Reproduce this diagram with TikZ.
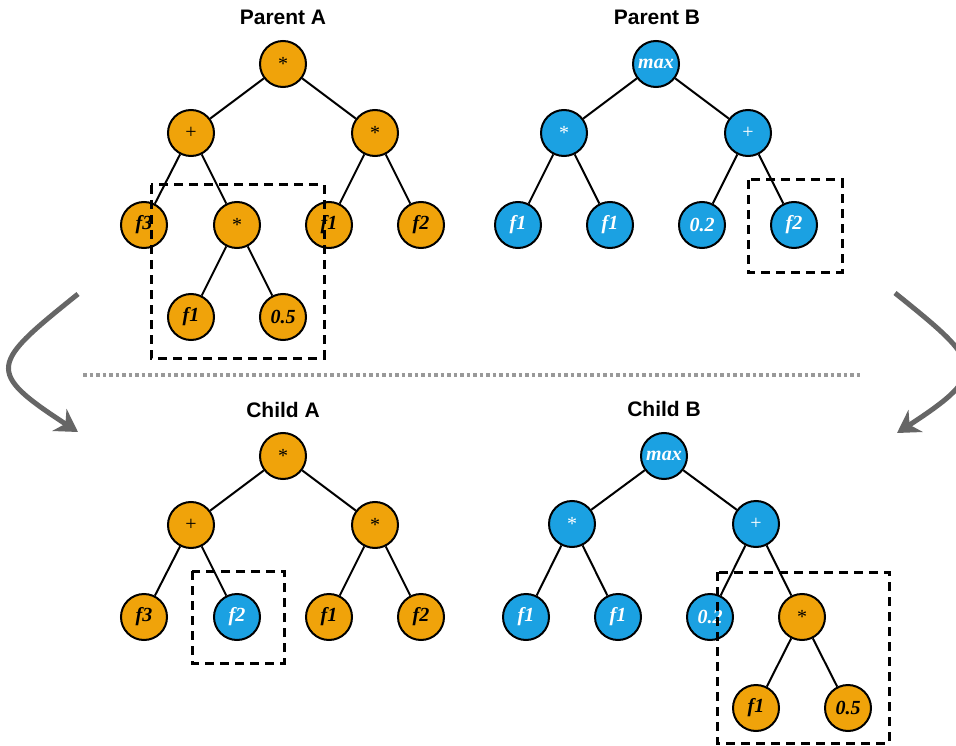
\documentclass[tikz,border=0pt]{standalone}
\usepackage{fontspec}
\setmainfont{Liberation Serif}
\newfontfamily\headfont{Liberation Sans}
\usetikzlibrary{arrows.meta}
\newcommand{\gpfont}{\fontsize{20pt}{22pt}\selectfont\bfseries\itshape}
\newcommand{\opfont}{\fontsize{20pt}{22pt}\selectfont}
\newcommand{\headsize}{\headfont\fontsize{21pt}{24pt}\selectfont\bfseries}
\definecolor{treeorange}{HTML}{F0A30A}
\definecolor{treeblue}{HTML}{1BA1E2}
\definecolor{arrowgrey}{HTML}{666666}
\definecolor{dotgrey}{HTML}{999999}

\begin{document}
\begin{tikzpicture}[x=1pt,y=-1pt,
  gene/.style={circle,draw,line width=2pt,minimum size=46pt,inner sep=0pt},
  ora/.style={gene,fill=treeorange,text=black},
  blu/.style={gene,fill=treeblue,text=white},
  link/.style={line width=2pt},
  cutbox/.style={line width=3pt,dash pattern=on 9pt off 6pt},
  xover/.style={line width=5pt,draw=arrowgrey,-{Stealth[length=22pt,width=26pt,inset=7pt]}}]
\useasboundingbox (0,0) rectangle (956,746);
%titles
\node[font=\headsize] (ta) at (283,17) {Parent A};
\node[font=\headsize] (tb) at (657,17) {Parent B};
\node[font=\headsize] (tc) at (283,410) {Child A};
\node[font=\headsize] (td) at (664,409) {Child B};
%parent A
\node[ora,font=\opfont] (pa) at (283,64) {*};
\node[ora,font=\opfont] (pa1) at (191,133) {+};
\node[ora,font=\opfont] (pa2) at (375,133) {*};
\node[ora,font=\gpfont] (pa11) at (144,225) {f3};
\node[ora,font=\opfont] (pa12) at (237,225) {*};
\node[ora,font=\gpfont] (pa21) at (329,225) {f1};
\node[ora,font=\gpfont] (pa22) at (421,225) {f2};
\node[ora,font=\gpfont] (pa121) at (191,317) {f1};
\node[ora,font=\gpfont] (pa122) at (283,317) {0.5};
\foreach \a/\b in {pa/pa1,pa/pa2,pa1/pa11,pa1/pa12,pa2/pa21,pa2/pa22,pa12/pa121,pa12/pa122}
    \draw[link] (\a) -- (\b);
%parent B
\node[blu,font=\gpfont] (pb) at (656,64) {max};
\node[blu,font=\opfont] (pb1) at (564,133) {*};
\node[blu,font=\opfont] (pb2) at (748,133) {+};
\node[blu,font=\gpfont] (pb11) at (518,225) {f1};
\node[blu,font=\gpfont] (pb12) at (610,225) {f1};
\node[blu,font=\gpfont] (pb21) at (702,225) {0.2};
\node[blu,font=\gpfont] (pb22) at (794,225) {f2};
\foreach \a/\b in {pb/pb1,pb/pb2,pb1/pb11,pb1/pb12,pb2/pb21,pb2/pb22}
    \draw[link] (\a) -- (\b);
%child A
\node[ora,font=\opfont] (ca) at (283,456) {*};
\node[ora,font=\opfont] (ca1) at (191,525) {+};
\node[ora,font=\opfont] (ca2) at (375,525) {*};
\node[ora,font=\gpfont] (ca11) at (144,617) {f3};
\node[blu,font=\gpfont] (ca12) at (237,617) {f2};
\node[ora,font=\gpfont] (ca21) at (329,617) {f1};
\node[ora,font=\gpfont] (ca22) at (421,617) {f2};
\foreach \a/\b in {ca/ca1,ca/ca2,ca1/ca11,ca1/ca12,ca2/ca21,ca2/ca22}
    \draw[link] (\a) -- (\b);
%child B
\node[blu,font=\gpfont] (cb) at (664,456) {max};
\node[blu,font=\opfont] (cb1) at (572,524) {*};
\node[blu,font=\opfont] (cb2) at (756,524) {+};
\node[blu,font=\gpfont] (cb11) at (526,617) {f1};
\node[blu,font=\gpfont] (cb12) at (618,617) {f1};
\node[blu,font=\gpfont] (cb21) at (710,617) {0.2};
\node[ora,font=\opfont] (cb22) at (802,617) {*};
\node[ora,font=\gpfont] (cb221) at (756,708) {f1};
\node[ora,font=\gpfont] (cb222) at (848,708) {0.5};
\foreach \a/\b in {cb/cb1,cb/cb2,cb1/cb11,cb1/cb12,cb2/cb21,cb2/cb22,cb22/cb221,cb22/cb222}
    \draw[link] (\a) -- (\b);
%dashed boxes round the swapped subtrees
\draw[cutbox] (151,185) rectangle (324,358);
\draw[cutbox] (748,180) rectangle (842,272);
\draw[cutbox] (192,571) rectangle (284,663);
\draw[cutbox] (717,572) rectangle (889,743);
%separator
\coordinate (s0) at (83,375);
\coordinate (s1) at (862,375);
\draw[dotgrey,line width=3.5pt,dash pattern=on 3.5pt off 3pt] (s0) -- (s1);
%curved arrows
\coordinate (la0) at (78,294);
\coordinate (la1) at (78,432);
\coordinate (rb0) at (895,293);
\coordinate (rb1) at (897,433);
\draw[xover] (la0) .. controls (-9,364) and (-16,371) .. (la1);
\draw[xover] (rb0) .. controls (982,363) and (991,372) .. (rb1);
\end{tikzpicture}
\end{document}
